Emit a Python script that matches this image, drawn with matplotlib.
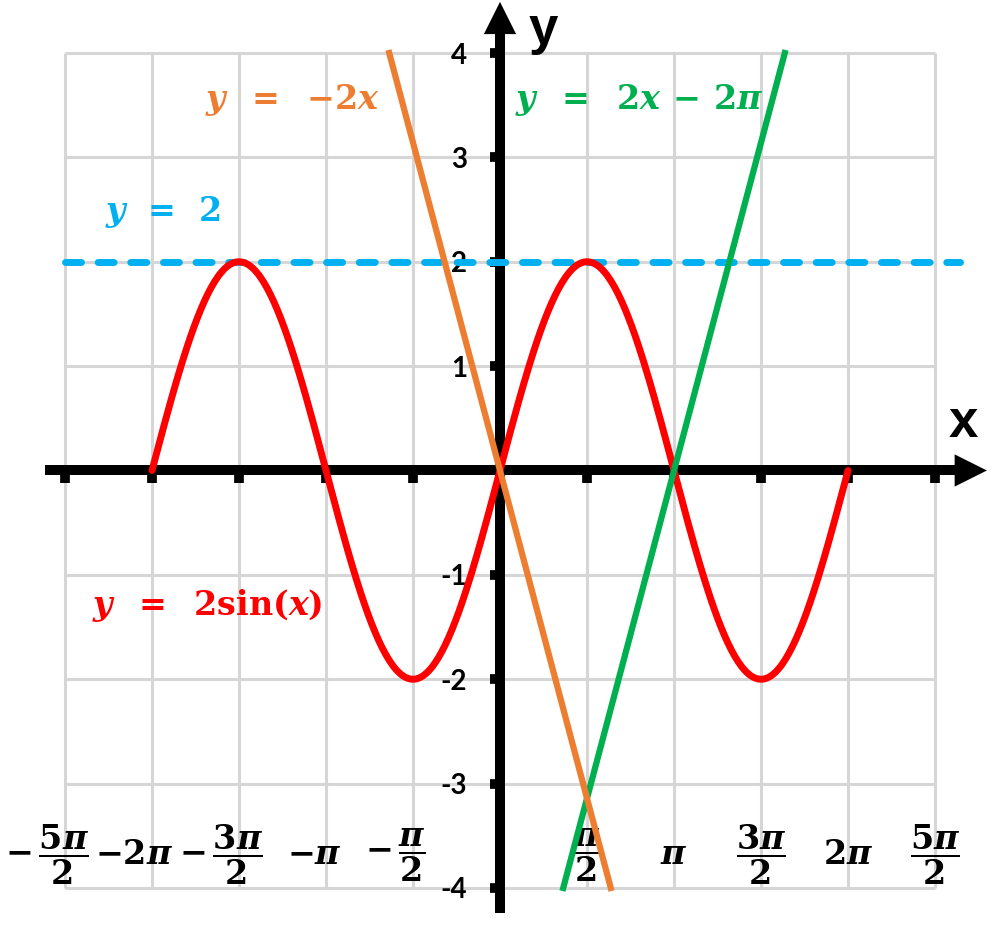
import numpy as np
import matplotlib
matplotlib.use('Agg')
import matplotlib.pyplot as plt
from matplotlib import transforms

# math text in bold serif, close to the Cambria Math look
plt.rcParams['mathtext.fontset'] = 'custom'
plt.rcParams['mathtext.rm'] = 'DejaVu Serif:bold'
plt.rcParams['mathtext.it'] = 'DejaVu Serif:bold:italic'
plt.rcParams['mathtext.bf'] = 'DejaVu Serif:bold'

PI = np.pi

# functions shown on the chart
sine_amplitude = 2
sine_domain = (-2 * PI, 2 * PI)
line_slopes = [-2, 2]
line_intercepts = [0, -2 * PI]
line_colors = ['#ED7D31', '#00B050']
line_yrange = (-4, 4)
hline_value = 2

# ticks
x_tick_vals = [k * PI / 2 for k in (-5, -4, -3, -2, -1, 1, 2, 3, 4, 5)]
x_tick_labels = [r'$-\,\dfrac{5\pi}{2}$', r'$-2\pi$', r'$-\,\dfrac{3\pi}{2}$', r'$-\pi$',
                 r'$-\,\dfrac{\pi}{2}$', r'$\dfrac{\pi}{2}$', r'$\pi$', r'$\dfrac{3\pi}{2}$',
                 r'$2\pi$', r'$\dfrac{5\pi}{2}$']
y_tick_vals = [-4, -3, -2, -1, 1, 2, 3, 4]
y_tick_labels = ['-4', '-3', '-2', '-1', '1', '2', '3', '4']

# equation labels: text, colour, left x, centre y
eq_texts = [r'$y\;\;=\;\;{-}2x$', r'$y\;\;=\;\;2x\,-\,2\pi$',
            r'$y\;\,=\;\,2$', r'$y\;\;=\;\;2\sin(x)$']
eq_colors = ['#ED7D31', '#00B050', '#00B0F0', '#FF0000']
eq_x = [-5.33, 0.27, -7.13, -7.37]
eq_y = [3.55, 3.55, 2.48, -1.29]

fig = plt.figure(figsize=(10, 9.27), dpi=100)
ax = fig.add_axes([0, 0, 1, 1])
ax.set_xlim(-9.027, 9.027)
ax.set_ylim(-4.374, 4.508)

# grid, bounded to the labelled range
grid_x = [k * PI / 2 for k in range(-5, 6)]
grid_y = list(range(-4, 5))
ax.vlines(grid_x, -4, 4, color='#d6d6d6', lw=2.2, zorder=0)
ax.hlines(grid_y, -5 * PI / 2, 5 * PI / 2, color='#d6d6d6', lw=2.2, zorder=0)

# axes through the origin
for side in ('top', 'right'):
    ax.spines[side].set_visible(False)
ax.spines['left'].set_position(('data', 0))
ax.spines['bottom'].set_position(('data', 0))
ax.spines['bottom'].set_bounds(-8.12, 8.3)
ax.spines['left'].set_bounds(-4.19, 4.3)
for side in ('left', 'bottom'):
    ax.spines[side].set_linewidth(7.2)
    ax.spines[side].set_zorder(2)
ax.set_xticks(x_tick_vals)
ax.set_yticks(y_tick_vals)
ax.set_yticklabels(y_tick_labels, fontfamily='Lato', fontweight='bold', fontsize=20)
ax.tick_params(axis='x', direction='out', length=9.4, width=7, labelbottom=False)
ax.tick_params(axis='y', direction='out', length=7.5, width=7, pad=16)

arrow = dict(arrowstyle='-|>,head_length=0.4,head_width=0.2', color='black',
             lw=0, shrinkA=0, shrinkB=0, mutation_scale=58)
ax.annotate('', xy=(8.79, 0), xytext=(8.0, 0), arrowprops=arrow, zorder=3)
ax.annotate('', xy=(0, 4.49), xytext=(0, 4.0), arrowprops=arrow, zorder=3)
ax.text(8.36, 0.455, 'x', fontfamily='Liberation Sans', fontweight='bold',
        fontsize=38, ha='center', va='center')
ax.text(0.776, 4.22, 'y', fontfamily='Liberation Sans', fontweight='bold',
        fontsize=38, ha='center', va='center')

# x tick labels at the bottom
for val, lab in zip(x_tick_vals, x_tick_labels):
    dx = -13 if val < 0 else 0
    if lab == r'$-\pi$':
        dx = -8
    tr = transforms.offset_copy(ax.transData, fig=fig, x=dx, y=0, units='points')
    ax.text(val, -3.684, lab, transform=tr, fontsize=24, ha='center', va='center')

# curves
ax.axhline(hline_value, xmin=(-5 * PI / 2 + 9.027) / 18.054, xmax=(8.3 + 9.027) / 18.054,
           color='#00B0F0', lw=5, dashes=(2.3, 2.4), dash_capstyle='round', zorder=4)
xs = np.linspace(sine_domain[0], sine_domain[1], 400)
ax.plot(xs, sine_amplitude * np.sin(xs), color='#FF0000', lw=5,
        solid_capstyle='round', zorder=5)
for m, b, c in zip(line_slopes[::-1], line_intercepts[::-1], line_colors[::-1]):
    xe = [(line_yrange[0] - b) / m, (line_yrange[1] - b) / m]
    ax.plot(xe, [m * x + b for x in xe], color=c, lw=4.5, zorder=6)

for t, c, x, y in zip(eq_texts, eq_colors, eq_x, eq_y):
    ax.text(x, y, t, color=c, fontsize=24, ha='left', va='center')

fig.savefig('out.png', dpi=100)
